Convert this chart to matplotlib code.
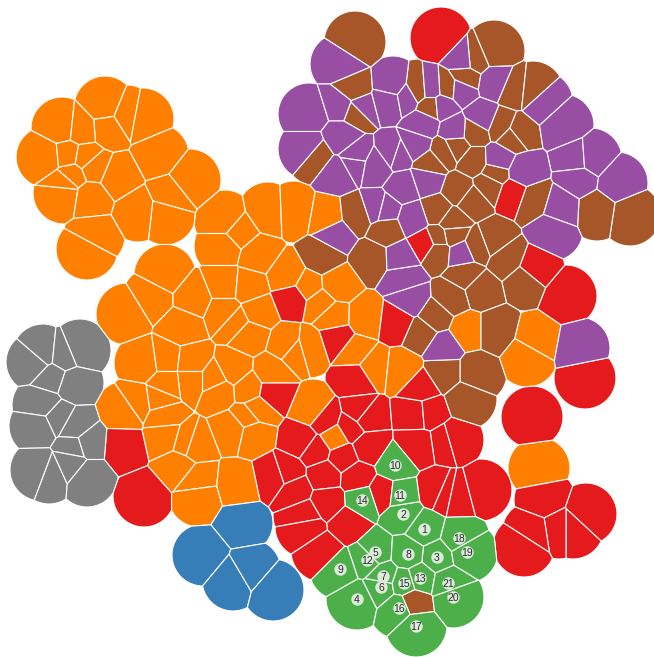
import numpy as np
import matplotlib
matplotlib.use("Agg")
import matplotlib.pyplot as plt
from matplotlib.collections import PolyCollection

orange = [(105,107),(62,128),(47,157),(64,193),(65,183),(127,116),(143,119),(158,155),(190,180),(170,196),(165,214),(138,211),(117,177),(108,128),(81,130),(68,155),(85,158),(93,167),(72,175),(90,197),(94,236),(87,249),
(225,221),(225,246),(239,233),(268,213),(294,212),(328,218),(257,254),(288,276),(225,285),(248,287),(165,275),(153,298),(127,314),(193,298),(182,326),(225,312),(257,312),
(236,322),(249,334),(288,345),(295,351),(309,347),(308,287),(320,303),(333,317),(337,285),(365,318),(355,352),(373,367),(402,370),
(145,363),(166,360),(191,363),(233,370),(214,380),(191,380),(166,383),(159,400),(138,403),(125,412),(163,415),(165,437),(187,443),(193,445),(234,429),(219,391),(249,389),(272,373),(247,418),(258,409),(252,433),(313,410),(335,437),(178,466),(197,481),(199,496),(237,485),
(467,330),(536,340),(527,356),(539,468)]
red = [(293,298),(337,338),(397,322),(356,378),(360,413),(365,417),(417,413),(421,388),(429,412),(446,442),(453,440),(418,446),(437,490),(444,493),(458,496),(481,490),
(532,417),(585,378),(566,296),(534,269),(545,500),(586,514),(573,528),(559,528),(533,532),(524,546),(513,193),(426,243),(441,38),
(272,393),(302,440),(316,450),(325,420),(350,428),(343,457),(368,447),(325,475),(357,477),(383,493),(287,473),(275,477),(294,490),(304,516),(306,527),(322,551),(328,502),(348,523),(124,446),(144,496)]
brown = [(355,42),(352,90),(418,90),(448,88),(475,59),(494,51),(465,77),(514,90),(533,92),(630,215),(597,210),(525,280),(507,259),(493,240),(477,246),(465,275),(480,290),(452,298),(373,259),(387,230),(322,257),(356,215),(316,155),(357,110),(431,106),
(474,132),(502,126),(517,132),(512,136),(495,173),(474,161),(444,152),(456,146),(430,164),(437,211),(459,190),(489,185),(472,200),(533,200),(452,222),(453,235),(438,238),(438,251),
(495,330),(476,373),(444,373),(466,399),(422,333),(435,317),(413,602)]
purple = [(341,64),(393,87),(431,89),(464,60),(460,89),(495,82),(542,102),(563,125),(577,160),(591,159),(579,178),(617,183),(560,208),(552,230),(461,253),(403,278),(410,300),(400,258),(335,233),(338,172),(309,114),(309,149),(341,104),(359,108),(390,100),(406,97),(442,105),(423,124),(455,131),(482,118),(498,160),(523,172),(416,145),(394,154),(397,155),(354,163),(355,156),(341,138),(376,167),(377,208),(385,210),(403,187),(427,179),(413,219),(443,347),(579,348)]
gray = [(37,362),(43,355),(80,350),(63,357),(52,376),(73,383),(43,405),(40,426),(57,418),(75,428),(87,443),(74,447),(41,470),(49,473),(71,463),(87,476)]
blue = [(242,523),(203,555),(233,580),(250,570),(273,590)]
green = [(424,529),(403,514),(437,557),(357,599),(375,552),(381,587),(383,576),(408,554),(340,569),(395,465),(400,495),(367,560),(420,578),(362,500),(404,583),(399,608),(416,626),(459,538),(467,552),(453,597),(448,583)]
green_labels = [str(i) for i in range(1, 22)]

groups = [(orange, "#FF7F00"), (red, "#E41A1C"), (brown, "#A65628"), (purple, "#984EA3"),
          (gray, "#808080"), (blue, "#377EB8"), (green, "#4DAF4A")]
RADIUS = 31.0


def clip(poly, mid, normal):
    d = (poly - mid) @ normal
    out = []
    n = len(poly)
    for i in range(n):
        a, b, da, db = poly[i], poly[(i + 1) % n], d[i], d[(i + 1) % n]
        if da <= 0:
            out.append(a)
        if da * db < 0:
            out.append(a + (b - a) * da / (da - db))
    return np.array(out) if out else np.zeros((0, 2))


pts = np.array([p for g, _ in groups for p in g], float)
cols = [c for g, c in groups for _ in g]
theta = np.linspace(0, 2 * np.pi, 96, endpoint=False)
circle = np.c_[np.cos(theta), np.sin(theta)] * RADIUS
cells = []
for i, p in enumerate(pts):
    poly = p + circle
    for j in np.argsort(((pts - p) ** 2).sum(1)):
        q = pts[j]
        if j == i or np.hypot(*(q - p)) > 2 * RADIUS or len(poly) == 0:
            continue
        poly = clip(poly, (p + q) / 2, q - p)
    cells.append(poly)

fig = plt.figure(figsize=(6.54, 6.57), dpi=100)
ax = fig.add_axes([0, 0, 1, 1])
ax.set_xlim(0, 654)
ax.set_ylim(657, 0)
ax.axis("off")
ax.add_collection(PolyCollection(cells, facecolors=cols, edgecolors="white", linewidths=0.8))
gx, gy = zip(*green)
ax.scatter(gx, gy, s=80, c="#DBEDDA", linewidths=0, zorder=3)
for (x, y), t in zip(green, green_labels):
    ax.text(x, y, t, ha="center", va="center_baseline", fontsize=7.5, color="#2A2A2A",
            family="Liberation Sans", zorder=4)
fig.savefig("out.png", dpi=100)
